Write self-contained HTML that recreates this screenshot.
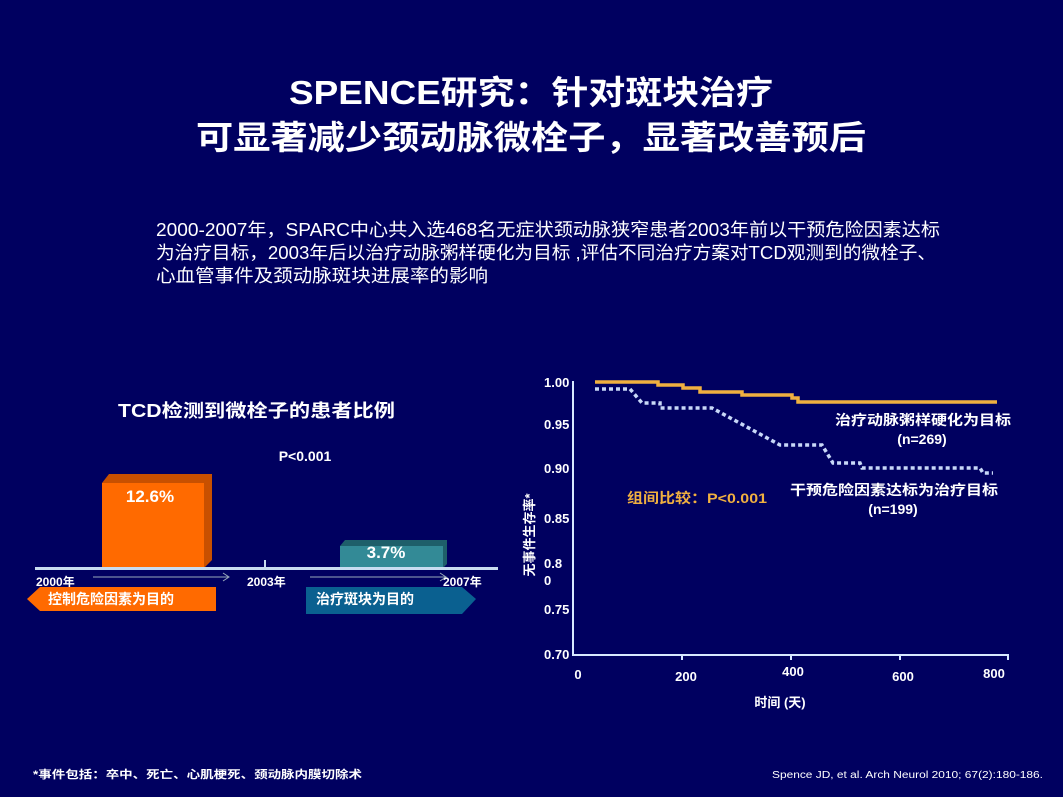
<!DOCTYPE html>
<html><head><meta charset="utf-8"><style>
body{margin:0;background:#000060;}
svg{display:block;}
text{font-family:"Liberation Sans","Noto Sans CJK SC",sans-serif;}
</style></head><body>
<svg width="1063" height="797" viewBox="0 0 1063 797">
<rect width="1063" height="797" fill="#000060"/>
<text x="289" y="104" fill="#fff" font-size="33" font-weight="bold" textLength="484" lengthAdjust="spacingAndGlyphs">SPENCE研究：针对斑块治疗</text>
<text x="196" y="149" fill="#fff" font-size="33" font-weight="bold" textLength="670" lengthAdjust="spacingAndGlyphs">可显著减少颈动脉微栓子，显著改善预后</text>
<g fill="#fff" font-size="18">
<text x="156" y="236" textLength="784" lengthAdjust="spacingAndGlyphs">2000-2007年，SPARC中心共入选468名无症状颈动脉狭窄患者2003年前以干预危险因素达标</text>
<text x="156" y="259" textLength="780" lengthAdjust="spacingAndGlyphs">为治疗目标，2003年后以治疗动脉粥样硬化为目标 ,评估不同治疗方案对TCD观测到的微栓子、</text>
<text x="156" y="282" textLength="332" lengthAdjust="spacingAndGlyphs">心血管事件及颈动脉斑块进展率的影响</text>
</g>
<text x="118" y="417" fill="#fff" font-size="18" font-weight="bold" textLength="277" lengthAdjust="spacingAndGlyphs">TCD检测到微栓子的患者比例</text>
<text x="305" y="461" text-anchor="middle" fill="#fff" font-size="14" font-weight="bold">P&lt;0.001</text>
<polygon points="102,568 102,483 109,474 212,474 212,560 204,568" fill="#c85000"/>
<rect x="102" y="483" width="102" height="85" fill="#ff6a00"/>
<text x="150" y="502" text-anchor="middle" fill="#fff" font-size="17" font-weight="bold">12.6%</text>
<polygon points="340,568 340,546 345,540 447,540 447,564 443,568" fill="#1e5f6a"/>
<rect x="340" y="546" width="103" height="22" fill="#338a96"/>
<text x="386" y="558" text-anchor="middle" fill="#fff" font-size="17" font-weight="bold">3.7%</text>
<rect x="35" y="567" width="463" height="3" fill="#c8dcf0"/>
<rect x="264" y="560" width="2" height="8" fill="#c8dcf0"/>
<g stroke="#9ab" stroke-width="1" fill="none"><line x1="93" y1="577" x2="228" y2="577"/><polyline points="223,573 229,577 223,581"/><line x1="310" y1="577" x2="445" y2="577"/><polyline points="440,573 446,577 440,581"/></g>
<g fill="#fff" font-size="12" font-weight="bold"><text x="36" y="586">2000年</text><text x="247" y="586">2003年</text><text x="443" y="586">2007年</text></g>
<polygon points="27,599 40,587 216,587 216,611 40,611" fill="#ff6a00"/>
<text x="48" y="604" fill="#fff" font-size="14" font-weight="bold">控制危险因素为目的</text>
<polygon points="306,587 462,587 476,599 462,614 306,614" fill="#0a6090"/>
<text x="316" y="604" fill="#fff" font-size="14" font-weight="bold">治疗斑块为目的</text>
<g stroke="#d8e8ff" stroke-width="2"><line x1="573" y1="381" x2="573" y2="656"/><line x1="573" y1="655" x2="1009" y2="655"/>
<line x1="682" y1="655" x2="682" y2="660"/><line x1="791" y1="655" x2="791" y2="660"/><line x1="900" y1="655" x2="900" y2="660"/><line x1="1008" y1="655" x2="1008" y2="660"/></g>
<g fill="#fff" font-size="13" font-weight="bold">
<text x="544" y="387">1.00</text><text x="544" y="429">0.95</text><text x="544" y="473">0.90</text><text x="544" y="523">0.85</text><text x="544" y="568">0.8</text><text x="544" y="585">0</text><text x="544" y="614">0.75</text><text x="544" y="659">0.70</text>
<text x="578" y="679" text-anchor="middle">0</text><text x="686" y="681" text-anchor="middle">200</text><text x="793" y="676" text-anchor="middle">400</text><text x="903" y="681" text-anchor="middle">600</text><text x="994" y="678" text-anchor="middle">800</text>
<text x="780" y="707" text-anchor="middle">时间 (天)</text>
<text transform="translate(534,535) rotate(-90)" text-anchor="middle" font-size="13">无事件生存率*</text>
</g>
<polyline fill="none" stroke="#f0b040" stroke-width="3.5" points="595,382 658,382 658,385 683,385 683,388 700,388 700,392 742,392 742,395 792,395 792,398 798,398 798,402 997,402"/>
<polyline fill="none" stroke="#c8d8f8" stroke-width="3.5" stroke-dasharray="4,3" points="595,389 630,389 642,403 660,403 660,408 712,408 780,445 822,445 833,463 860,463 862,468 980,468 983,473 993,473"/>
<text x="835" y="425" fill="#fff" font-size="14" font-weight="bold" textLength="176" lengthAdjust="spacingAndGlyphs">治疗动脉粥样硬化为目标</text>
<text x="922" y="444" text-anchor="middle" fill="#fff" font-size="14" font-weight="bold">(n=269)</text>
<text x="790" y="495" fill="#fff" font-size="14" font-weight="bold" textLength="208" lengthAdjust="spacingAndGlyphs">干预危险因素达标为治疗目标</text>
<text x="893" y="514" text-anchor="middle" fill="#fff" font-size="14" font-weight="bold">(n=199)</text>
<text x="627" y="503" fill="#f0b040" font-size="14" font-weight="bold" textLength="140" lengthAdjust="spacingAndGlyphs">组间比较：P&lt;0.001</text>
<text x="33" y="778" fill="#fff" font-size="11" font-weight="bold" textLength="329" lengthAdjust="spacingAndGlyphs">*事件包括：卒中、死亡、心肌梗死、颈动脉内膜切除术</text>
<text x="772" y="778" fill="#fff" font-size="10" textLength="271" lengthAdjust="spacingAndGlyphs">Spence JD, et al. Arch Neurol 2010; 67(2):180-186.</text>
</svg>
</body></html>
